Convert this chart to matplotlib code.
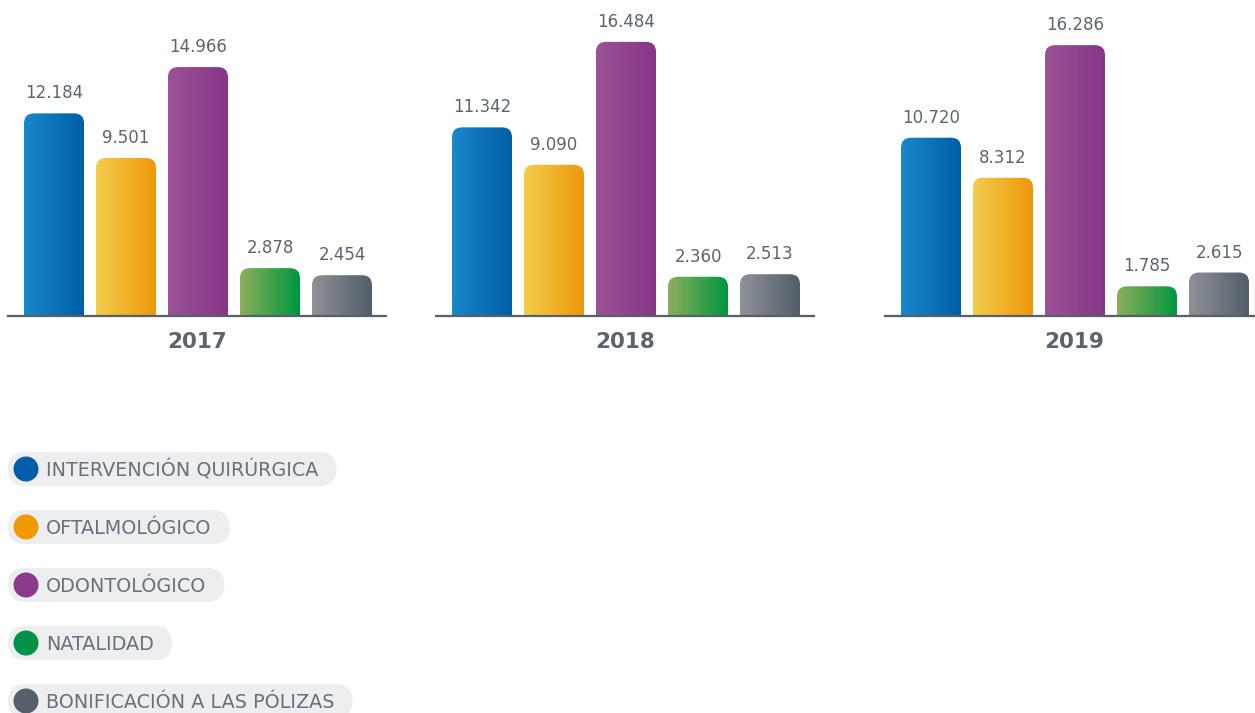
import numpy as np
import matplotlib
matplotlib.use("Agg")
import matplotlib.pyplot as plt
from matplotlib.patches import FancyBboxPatch, Circle
from matplotlib.colors import LinearSegmentedColormap

years = ["2017", "2018", "2019"]
categories = ["INTERVENCIÓN QUIRÚRGICA", "OFTALMOLÓGICO", "ODONTOLÓGICO",
              "NATALIDAD", "BONIFICACIÓN A LAS PÓLIZAS"]
values_2017 = [12184, 9501, 14966, 2878, 2454]
values_2018 = [11342, 9090, 16484, 2360, 2513]
values_2019 = [10720, 8312, 16286, 1785, 2615]
values = [values_2017, values_2018, values_2019]

grad_left = ["#1a88cb", "#f3cd4c", "#9b5395", "#8cae5c", "#8f9297"]
grad_right = ["#005ea6", "#ee980a", "#873589", "#00963f", "#525e69"]
solid = ["#005ea8", "#f09a00", "#8b3a8b", "#009347", "#56606b"]
text_color = "#5b6570"
legend_text_color = "#68717b"

W, H = 1255, 713
fig = plt.figure(figsize=(W / 100, H / 100), dpi=100)
FONT = "DejaVu Sans"

group_x0 = [8, 436, 885]
ax_w = 378
base_y = 316
ymax = 19000
bar_w = 60 / 72
x_lo = -46 / 72
x_hi = (ax_w - 46) / 72
px_x = 72.0
px_y = base_y / ymax
mut_aspect = (1 / px_y) * px_x
rad = 10 / px_x


def fmt(v):
    return f"{v:,}".replace(",", ".")


for g, (yr, vals) in enumerate(zip(years, values)):
    ax = fig.add_axes([group_x0[g] / W, (H - base_y) / H, ax_w / W, base_y / H])
    ax.set_xlim(x_lo, x_hi)
    ax.set_ylim(0, ymax)
    ax.axis("off")
    for i, v in enumerate(vals):
        patch = FancyBboxPatch((i - bar_w / 2, -2000), bar_w, v + 2000,
                               boxstyle=f"round,pad=0,rounding_size={rad}",
                               mutation_aspect=mut_aspect,
                               facecolor="none", edgecolor="none")
        ax.add_patch(patch)
        cmap = LinearSegmentedColormap.from_list(f"c{i}", [grad_left[i], grad_right[i]])
        im = ax.imshow(np.linspace(0, 1, 256).reshape(1, -1), cmap=cmap,
                       extent=[i - bar_w / 2, i + bar_w / 2, -2000, v],
                       aspect="auto", interpolation="bilinear")
        im.set_clip_path(patch)
        ax.annotate(fmt(v), (i, v), xytext=(0, 15), textcoords="offset pixels",
                    ha="center", va="baseline", fontsize=12, color=text_color,
                    family=FONT, annotation_clip=False)
    ax.set_xlim(x_lo, x_hi)
    ax.set_ylim(0, ymax)
    ax.axhline(0, color="#56606b", lw=1.6, clip_on=False)
    ax.annotate(yr, (0.5, 0), xycoords="axes fraction", xytext=(0, -32),
                textcoords="offset pixels", ha="center", va="baseline",
                fontsize=15.5, fontweight="bold", color=text_color, family=FONT,
                annotation_clip=False)

# Legend overlay
lax = fig.add_axes([0, 0, 1, 1], zorder=-1)
lax.set_xlim(0, W)
lax.set_ylim(H, 0)
lax.axis("off")
fig.canvas.draw()
renderer = fig.canvas.get_renderer()
leg_y0 = 469
leg_dy = 58
for k, (lab, col) in enumerate(zip(categories, solid)):
    cy = leg_y0 + k * leg_dy
    t = lax.text(46, cy + 7.5, lab, ha="left", va="baseline", fontsize=13.8,
                 color=legend_text_color, family=FONT, zorder=3)
    bb = t.get_window_extent(renderer)
    x_end = bb.x1
    pill = FancyBboxPatch((8, cy - 17), x_end + 18 - 8, 34,
                          boxstyle="round,pad=0,rounding_size=17",
                          facecolor="#eceef0", edgecolor="none", zorder=0)
    lax.add_patch(pill)
    lax.add_patch(Circle((26, cy), 12.5, facecolor=col, edgecolor="none", zorder=1))

fig.savefig("out.png", dpi=100)
